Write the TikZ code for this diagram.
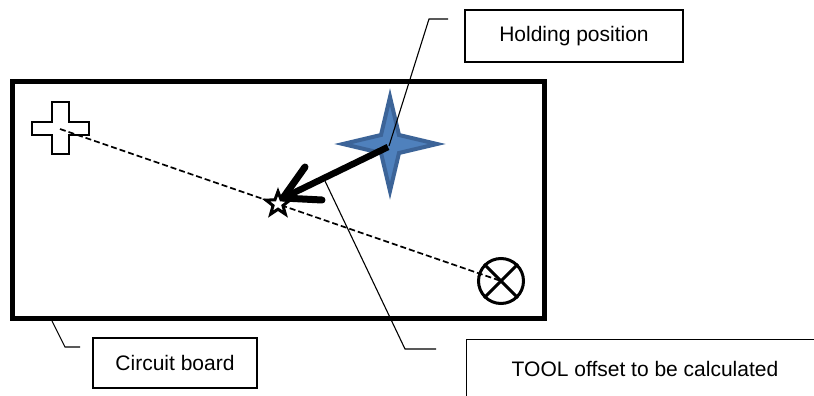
\documentclass[tikz,border=0pt]{standalone}
\usepackage{fontspec}
\setmainfont{Liberation Sans}
\usetikzlibrary{calc}
\definecolor{starfill}{RGB}{79,129,189}
\definecolor{starline}{RGB}{60,100,152}
\begin{document}
\begin{tikzpicture}[x=1pt,y=-1pt,
  lbl/.style={draw=black,line width=1.1pt,inner sep=0pt,font=\fontsize{21}{25}\selectfont},
  leader/.style={draw=black,line width=1.1pt},
  board/.style={draw=black,line width=5pt},
  heavy/.style={draw=black,line width=7pt,line cap=round,line join=round}]
\clip (0,0) rectangle (814,396);
\fill[white] (0,0) rectangle (814,396);
% circuit board
\draw[board] (12,82) rectangle (544,318);
% label boxes
\node[lbl,minimum width=218pt,minimum height=52pt] (hold) at (574,36) {Holding position};
\node[lbl,minimum width=164pt,minimum height=50pt] (cb) at (175,363) {Circuit board};
\node[lbl,minimum width=380pt,minimum height=80pt,anchor=north west] (tool) at (466,339) {};
\node[font=\fontsize{21}{25}\selectfont] (tooltxt) at (645,369) {TOOL offset to be calculated};
% cross (reference mark)
\draw[black,line width=1.3pt,fill=white] (52,102) -- (69,102) -- (69,122) -- (89,122) -- (89,135) -- (69,135) -- (69,154) -- (52,154) -- (52,135) -- (32,135) -- (32,122) -- (52,122) -- cycle;
\coordinate (crossc) at (60,129);
% circle with X
\node[draw=black,line width=3pt,circle,minimum size=45pt,inner sep=0pt] (cx) at (501,281) {};
\draw[black,line width=3pt] (cx.north west) -- (cx.south east) (cx.north east) -- (cx.south west);
% dashed line
\draw[black,line width=1.7pt,dash pattern=on 6pt off 3pt] (crossc) -- (cx.center);
% 4-point star
\coordinate (hp) at (390,144);
\draw[starline,fill=starfill,line width=4pt,line join=miter]
  (390,97) -- (399,135) -- (437,144) -- (399,153) -- (390,191) -- (381,153) -- (343,144) -- (381,135) -- cycle;
% small 5-point star (target)
\coordinate (tgt) at (278,204);
\draw[black,line width=3pt,fill=white,line join=miter]
  ($(tgt)+(90:-12.5)$) -- ($(tgt)+(126:-5.2)$) -- ($(tgt)+(162:-12.5)$) -- ($(tgt)+(198:-5.2)$) -- ($(tgt)+(234:-12.5)$) -- ($(tgt)+(270:-5.2)$) -- ($(tgt)+(306:-12.5)$) -- ($(tgt)+(342:-5.2)$) -- ($(tgt)+(18:-12.5)$) -- ($(tgt)+(54:-5.2)$) -- cycle;
% heavy arrow
\coordinate (tip) at (283,198);
\coordinate (arm1) at (305,167);
\coordinate (arm2) at (322,200);
\draw[heavy,line width=6.5pt,line cap=butt] (388,147) -- (tip);
\draw[heavy] (arm1) -- (tip) -- (arm2);
% leaders
\coordinate (hl1) at (448,19);
\coordinate (hl2) at (429,19);
\draw[leader] (hl1) -- (hl2) -- (389,146);
\coordinate (tl1) at (436,349);
\coordinate (tl2) at (405,349);
\draw[leader] (tl1) -- (tl2) -- (325,181);
\coordinate (cl1) at (80,347);
\coordinate (cl2) at (65,347);
\draw[leader] (cl1) -- (cl2) -- (52,321);
\end{tikzpicture}
\end{document}
